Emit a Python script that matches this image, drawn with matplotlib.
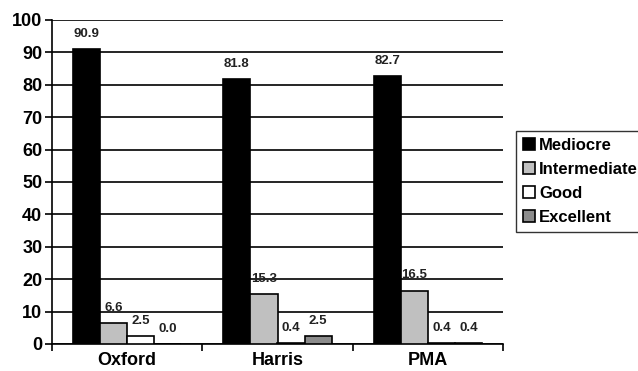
import matplotlib
matplotlib.use("Agg")
import matplotlib.pyplot as plt
import numpy as np

categories = ["Oxford", "Harris", "PMA"]
series_names = ["Mediocre", "Intermediate", "Good", "Excellent"]
mediocre = [90.9, 81.8, 82.7]
intermediate = [6.6, 15.3, 16.5]
good = [2.5, 0.4, 0.4]
excellent = [0.0, 2.5, 0.4]
colors = ["#000000", "#c0c0c0", "#ffffff", "#8c8c8c"]

plt.rcParams['font.family'] = ['Liberation Sans', 'DejaVu Sans']
plt.rcParams['font.weight'] = 'bold'

fig = plt.figure(figsize=(6.38, 3.71), dpi=100)
ax = fig.add_axes([52/638, 27/371, (503-52)/638, (344-20)/371])

series = [mediocre, intermediate, good, excellent]
x = np.arange(len(categories))
w = 0.18
for i, (vals, c, name) in enumerate(zip(series, colors, series_names)):
    pos = x - 1.5*w + i*w
    ax.bar(pos, vals, width=w, color=c, edgecolor='black', linewidth=1.2,
           label=name, zorder=3)
    for xp, v in zip(pos, vals):
        ax.text(xp, v + 2.8, f"{v:.1f}", ha='center', va='bottom', fontsize=9.5,
                fontweight='bold', color='#222222', zorder=4)

ax.set_xlim(-0.5, 2.5)
ax.set_ylim(0, 100)
ax.set_yticks(range(0, 101, 10))
ax.set_yticklabels([str(t) for t in range(0, 101, 10)], fontsize=13, fontweight='bold')
ax.set_xticks(x)
ax.set_xticklabels(categories, fontsize=13, fontweight='bold')
ax.tick_params(axis='x', length=0, pad=6)
ax.set_xticks([-0.5, 0.5, 1.5, 2.5], minor=True)
ax.tick_params(axis='x', which='minor', length=5, width=1.2, direction='out')
ax.tick_params(axis='y', length=5, width=1.2, direction='out', pad=2)
ax.yaxis.grid(True, color='black', linewidth=1.2, zorder=0)
ax.set_axisbelow(True)
for s in ['top', 'right']:
    ax.spines[s].set_visible(False)
for s in ['left', 'bottom']:
    ax.spines[s].set_linewidth(1.2)

leg = fig.legend(loc='upper left', bbox_to_anchor=(516/638, 1-131/371), frameon=True,
                 fancybox=False, edgecolor='black', fontsize=12,
                 handlelength=0.75, handleheight=0.75, handletextpad=0.25,
                 borderpad=0.4, labelspacing=0.55, borderaxespad=0)
leg.get_frame().set_linewidth(1.0)
for t in leg.get_texts():
    t.set_fontweight('bold')

fig.savefig("out.png", dpi=100)
